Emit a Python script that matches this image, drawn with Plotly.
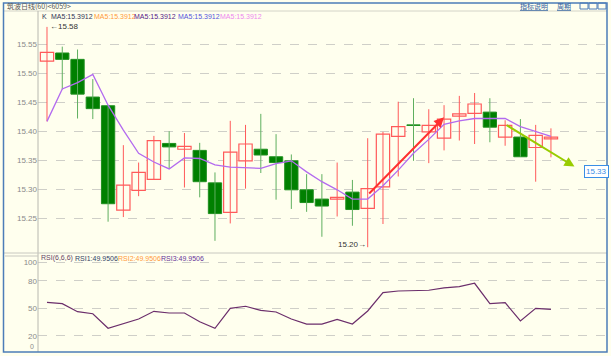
import plotly.graph_objects as go

# ---------------- data ----------------
idx = list(range(34))
opens  = [15.521, 15.535, 15.524, 15.459, 15.444, 15.264, 15.298, 15.317, 15.379, 15.369,
          15.367, 15.311, 15.260, 15.349, 15.369, 15.356, 15.349, 15.299, 15.283, 15.283,
          15.295, 15.267, 15.304, 15.391, 15.411, 15.399, 15.388, 15.426, 15.431, 15.433,
          15.390, 15.390, 15.372, 15.387]
highs  = [15.580, 15.546, 15.541, 15.490, 15.444, 15.376, 15.346, 15.392, 15.400, 15.397,
          15.380, 15.329, 15.418, 15.411, 15.430, 15.395, 15.360, 15.326, 15.326, 15.346,
          15.316, 15.388, 15.399, 15.451, 15.457, 15.438, 15.445, 15.461, 15.466, 15.457,
          15.419, 15.421, 15.411, 15.405]
lows   = [15.417, 15.472, 15.422, 15.421, 15.244, 15.252, 15.288, 15.317, 15.335, 15.303,
          15.286, 15.211, 15.241, 15.301, 15.328, 15.282, 15.266, 15.261, 15.218, 15.253,
          15.237, 15.200, 15.240, 15.322, 15.349, 15.345, 15.367, 15.384, 15.378, 15.381,
          15.375, 15.356, 15.313, 15.355]
closes = [15.536, 15.524, 15.464, 15.439, 15.275, 15.307, 15.329, 15.384, 15.373, 15.374,
          15.313, 15.258, 15.364, 15.378, 15.359, 15.346, 15.299, 15.277, 15.271, 15.286,
          15.265, 15.301, 15.395, 15.408, 15.410, 15.410, 15.421, 15.430, 15.447, 15.407,
          15.410, 15.356, 15.393, 15.390]
ma5 = [15.417, 15.473, 15.484, 15.498, 15.445, 15.402, 15.362, 15.347, 15.335, 15.354,
       15.353, 15.342, 15.338, 15.337, 15.336, 15.344, 15.349, 15.330, 15.313, 15.299,
       15.283, 15.283, 15.306, 15.333, 15.362, 15.386, 15.412, 15.418, 15.422, 15.422,
       15.422, 15.408, 15.399, 15.391]
rsi = [56.5, 55.0, 46.3, 44.1, 28.3, 33.3, 38.4, 46.7, 44.9, 44.9,
       35.4, 28.3, 50.0, 52.2, 47.8, 46.0, 38.4, 32.9, 32.9, 38.0,
       32.9, 47.1, 67.0, 68.8, 69.6, 69.6, 72.1, 73.5, 77.2, 55.0,
       56.1, 36.2, 50.0, 48.9]

price_ticks = [15.25, 15.30, 15.35, 15.40, 15.45, 15.50, 15.55]
rsi_ticks = [20, 50, 80, 100]

red_arrow = {"x0": 21, "y0": 15.290, "x1": 26, "y1": 15.424}
green_arrow = {"x0": 30, "y0": 15.412, "x1": 34.54, "y1": 15.339}

hi_label, lo_label, last_label = "15.58", "15.20", "15.33"
ma_text = "MA5:15.3912"
rsi_text = "49.9506"

# ---------------- style ----------------
W, H = 611, 356
BG = "#FFFFEE"
UP = "#FF5A5A"
DOWN = "#008000"
DOWN_WICK = "#5FAF5F"

def px(x):
    return x / W

def py(y):
    return 1 - y / H

fig = go.Figure()

# wicks
for flag, col in ((True, UP), (False, DOWN_WICK)):
    xs, ys = [], []
    for i in idx:
        if (closes[i] >= opens[i]) == flag:
            xs += [i, i, None]
            ys += [lows[i], highs[i], None]
    fig.add_trace(go.Scatter(x=xs, y=ys, mode="lines", line=dict(color=col, width=1),
                             hoverinfo="skip", showlegend=False, xaxis="x", yaxis="y"))

# bodies
up_i = [i for i in idx if closes[i] >= opens[i]]
dn_i = [i for i in idx if closes[i] < opens[i]]
fig.add_trace(go.Bar(x=up_i, base=[opens[i] for i in up_i],
                     y=[max(closes[i] - opens[i], 0.0008) for i in up_i],
                     width=0.87, marker=dict(color=BG, line=dict(color=UP, width=1.2)),
                     showlegend=False, xaxis="x", yaxis="y"))
fig.add_trace(go.Bar(x=dn_i, base=[closes[i] for i in dn_i],
                     y=[max(opens[i] - closes[i], 0.0008) for i in dn_i],
                     width=0.87, marker=dict(color=DOWN, line=dict(color="#1F8F1F", width=1)),
                     showlegend=False, xaxis="x", yaxis="y"))

# MA line
fig.add_trace(go.Scatter(x=idx, y=ma5, mode="lines", line=dict(color="#B36BEF", width=1.3),
                         showlegend=False, xaxis="x", yaxis="y"))

# RSI line
fig.add_trace(go.Scatter(x=idx, y=rsi, mode="lines", line=dict(color="#6B2E6B", width=1.2),
                         showlegend=False, xaxis="x2", yaxis="y2"))

xr = [-0.589, 36.67]
fig.update_layout(
    width=W, height=H, margin=dict(l=0, r=0, t=0, b=0),
    paper_bgcolor=BG, plot_bgcolor=BG, barmode="overlay",
    xaxis=dict(domain=[px(38), px(607)], range=xr, showgrid=False, showticklabels=False,
               zeroline=False, fixedrange=True),
    yaxis=dict(domain=[py(253), py(12)], range=[15.190, 15.6057], tickvals=price_ticks,
               ticktext=[f"{v:.2f}" for v in price_ticks], showgrid=True, gridcolor="#CFCFC8",
               griddash="dash", gridwidth=1, zeroline=False, ticks="",
               tickfont=dict(family="Liberation Sans", size=8, color="#8A8A8A")),
    xaxis2=dict(domain=[px(38), px(607)], range=xr, anchor="y2", showgrid=False,
                showticklabels=False, zeroline=False),
    yaxis2=dict(domain=[py(352), py(253)], range=[2.5, 110.1], anchor="x2", tickvals=rsi_ticks,
                showgrid=True, gridcolor="#CFCFC8", griddash="dash", zeroline=False, ticks="",
                tickfont=dict(family="Liberation Sans", size=8, color="#8A8A8A")),
    font=dict(family="Liberation Sans"),
)

shapes = []
# frame and separators
shapes.append(dict(type="line", xref="paper", yref="paper", x0=px(3), x1=px(607), y0=py(11), y1=py(11),
                   line=dict(color="#D4D4C8", width=1)))
shapes.append(dict(type="line", xref="paper", yref="paper", x0=px(38), x1=px(38), y0=py(11), y1=py(352),
                   line=dict(color="#B8B8B0", width=1)))
shapes.append(dict(type="line", xref="paper", yref="paper", x0=px(3), x1=px(607), y0=py(253), y1=py(253),
                   line=dict(color="#C8C8C0", width=1)))
shapes.append(dict(type="line", xref="paper", yref="paper", x0=px(5), x1=px(38), y0=py(256), y1=py(256),
                   line=dict(color="#C8C8C0", width=1)))
shapes.append(dict(type="rect", xref="paper", yref="paper", x0=px(3.5), x1=px(607), y0=py(352), y1=py(3),
                   line=dict(color="#4C7DB8", width=1.5)))
# small window icons top right
for x0 in (580, 589, 598):
    shapes.append(dict(type="rect", xref="paper", yref="paper", x0=px(x0), x1=px(x0 + 8),
                       y0=py(9), y1=py(3), line=dict(color="#4C7DB8", width=1)))
fig.update_layout(shapes=shapes)

ann = []
# title bar
ann.append(dict(xref="paper", yref="paper", x=px(5), y=py(5.5), text="筑波日线(60)<6059>",
                showarrow=False, xanchor="left", yanchor="middle",
                font=dict(family="Noto Sans CJK SC", size=7, color="#555555")))
ann.append(dict(xref="paper", yref="paper", x=px(518), y=py(5.5), text="<u>指标说明</u>",
                showarrow=False, xanchor="left", yanchor="middle",
                font=dict(family="Noto Sans CJK SC", size=7, color="#3060A0")))
ann.append(dict(xref="paper", yref="paper", x=px(555), y=py(5.5), text="<u>周期</u>",
                showarrow=False, xanchor="left", yanchor="middle",
                font=dict(family="Noto Sans CJK SC", size=7, color="#3060A0")))
# MA header
ann.append(dict(xref="paper", yref="paper", x=px(40), y=py(16.3), text="K", showarrow=False,
                xanchor="left", yanchor="middle", font=dict(size=7, color="#333355")))
ma_cols = ["#333355", "#FF9A3C", "#552288", "#5555DD", "#EE88EE"]
ma_x = [49, 91.7, 131.7, 175.7, 218.3]
for c, x in zip(ma_cols, ma_x):
    ann.append(dict(xref="paper", yref="paper", x=px(x), y=py(16.3), text=ma_text, showarrow=False,
                    xanchor="left", yanchor="middle", font=dict(size=7, color=c)))
# RSI header
rsi_parts = [("RSI(6,6,6)", "#664466", 39.3), ("RSI1:" + rsi_text, "#334466", 73.3),
             ("RSI2:" + rsi_text, "#FF9A3C", 116), ("RSI3:" + rsi_text, "#663399", 159.3)]
for t, c, x in rsi_parts:
    ann.append(dict(xref="paper", yref="paper", x=px(x), y=py(258.3), text=t, showarrow=False,
                    xanchor="left", yanchor="middle", font=dict(size=7, color=c)))
ann.append(dict(xref="paper", yref="paper", x=px(36), y=py(346.5), text="0", showarrow=False,
                xanchor="right", yanchor="middle", font=dict(size=7, color="#8A8A8A")))
# high / low labels
ann.append(dict(xref="x", yref="y", x=0.05, y=highs[0], text="←" + hi_label, showarrow=False,
                xanchor="left", yanchor="middle", font=dict(size=8, color="#333333")))
ann.append(dict(xref="x", yref="y", x=21, y=lows[21] + 0.005, text=lo_label + "→", showarrow=False,
                xanchor="right", yanchor="middle", font=dict(size=8, color="#333333")))
# last price tag
ann.append(dict(xref="paper", yref="y", x=px(596.5), y=15.33, text=last_label, showarrow=False,
                xanchor="center", yanchor="middle", bgcolor="#FFFFFF", bordercolor="#3A8EE6",
                borderwidth=1, borderpad=1, font=dict(size=8, color="#3A8EE6")))
# trend arrows
ann.append(dict(xref="x", yref="y", axref="x", ayref="y", x=red_arrow["x1"], y=red_arrow["y1"],
                ax=red_arrow["x0"], ay=red_arrow["y0"], showarrow=True, arrowhead=2,
                arrowsize=1, arrowwidth=2, arrowcolor="#FF3030", text=""))
ann.append(dict(xref="x", yref="y", axref="x", ayref="y", x=green_arrow["x1"], y=green_arrow["y1"],
                ax=green_arrow["x0"], ay=green_arrow["y0"], showarrow=True, arrowhead=2,
                arrowsize=1, arrowwidth=2, arrowcolor="#99CC00", text=""))
fig.update_layout(annotations=ann)

fig.write_html("out.html", config={"displayModeBar": False},
               post_script="document.body.style.margin='0';document.body.style.overflow='hidden';")
